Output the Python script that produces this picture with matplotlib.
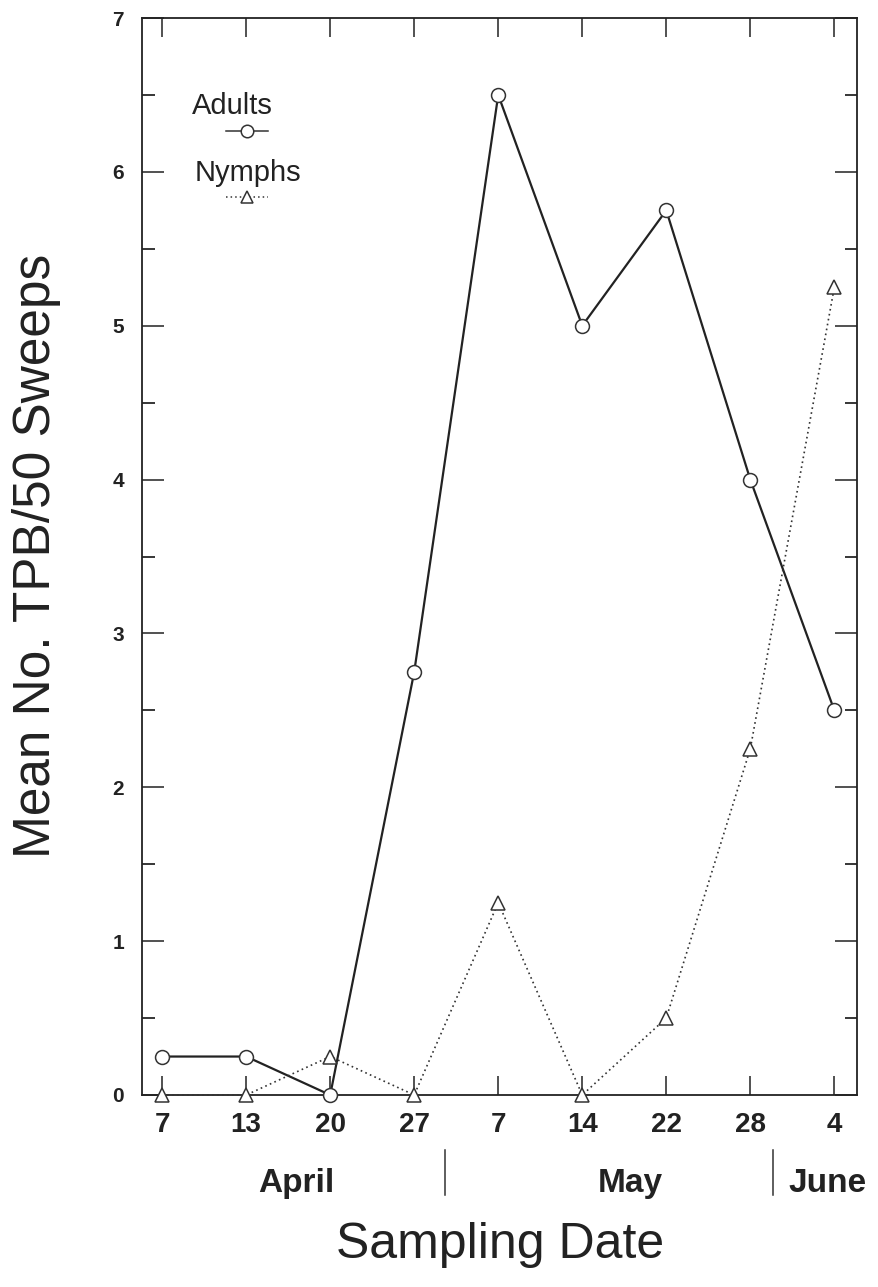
import matplotlib
matplotlib.use("Agg")
import matplotlib.pyplot as plt
from matplotlib.lines import Line2D
from matplotlib.ticker import MultipleLocator
import numpy as np

plt.rcParams['font.family'] = ['Liberation Sans', 'DejaVu Sans']

dates = ["7", "13", "20", "27", "7", "14", "22", "28", "4"]
adults = [0.25, 0.25, 0.0, 2.75, 6.5, 5.0, 5.75, 4.0, 2.5]
nymphs = [0.0, 0.0, 0.25, 0.0, 1.25, 0.0, 0.5, 2.25, 5.25]
months = ["April", "May", "June"]
month_pos = [1.6, 5.57, 7.92]
month_dividers = [3.37, 7.27]

fig = plt.figure(figsize=(8.79, 12.87), dpi=100)
ax = fig.add_axes([142/879, 1 - 1095/1287, (857-142)/879, (1095-18)/1287])

x = np.arange(len(dates))
ax.plot(x, adults, color='#222222', lw=1.6, marker='o', ms=10, mfc='white',
        mec='#333333', mew=1.1, zorder=3, clip_on=False)
ax.plot(x, nymphs, color='#333333', lw=1.2, ls=(0, (1, 2)), marker='^', ms=10,
        mfc='white', mec='#333333', mew=1.1, zorder=3, clip_on=False)

ax.set_xlim(-0.24, 8.27)
ax.set_ylim(0, 7)
ax.set_xticks(x)
ax.set_xticklabels(dates)
ax.yaxis.set_major_locator(MultipleLocator(1))
ax.yaxis.set_minor_locator(MultipleLocator(0.5))
ax.tick_params(axis='x', direction='in', length=14, width=1.1, top=True,
               labelsize=20, pad=12, colors='#222222')
ax.tick_params(axis='y', which='major', direction='in', length=16, width=1.1,
               right=True, labelsize=15, pad=13, colors='#222222')
ax.tick_params(axis='y', which='minor', direction='in', length=9, width=1.1,
               right=True)
for lbl in ax.get_yticklabels() + ax.get_xticklabels():
    lbl.set_fontweight('bold')
for sp in ax.spines.values():
    sp.set_linewidth(1.3)
    sp.set_color('#222222')

# month labels and dividers
trans = ax.get_xaxis_transform()
for m, p in zip(months, month_pos):
    ax.text(p, -0.082, m, transform=trans, ha='center', va='center',
            fontsize=24, fontweight='bold', color='#222222', clip_on=False)
for d in month_dividers:
    ax.add_line(Line2D([d, d], [-0.051, -0.093], transform=trans, color='#333333',
                       lw=1.1, clip_on=False))

fig.text(500/879, 1 - 1245/1287, "Sampling Date", ha='center', va='center',
         fontsize=36, color='#222222')
fig.text(37/879, 1 - 556/1287, "Mean No. TPB/50 Sweeps", rotation=90,
         ha='center', va='center', fontsize=37, color='#222222')

# legend drawn in axes coordinates
def ax_xy(px, py):
    return ((px - 142) / (857 - 142), (1095 - py) / (1095 - 18))

tx, ty = ax_xy(232, 106)
ax.text(tx, ty, "Adults", transform=ax.transAxes, ha='center', va='center',
        fontsize=21, color='#222222')
x0, yy = ax_xy(226, 131)
x1, _ = ax_xy(268, 131)
xm, _ = ax_xy(247, 131)
ax.add_line(Line2D([x0, x1], [yy, yy], transform=ax.transAxes, color='#333333', lw=1.1))
ax.add_line(Line2D([xm], [yy], transform=ax.transAxes, marker='o', ms=9, mfc='white',
                   mec='#333333', mew=1.1, ls='none'))
tx, ty = ax_xy(248, 173)
ax.text(tx, ty, "Nymphs", transform=ax.transAxes, ha='center', va='center',
        fontsize=21, color='#222222')
x0, yy = ax_xy(226, 197)
x1, _ = ax_xy(268, 197)
xm, _ = ax_xy(247, 195)
ax.add_line(Line2D([x0, x1], [yy, yy], transform=ax.transAxes, color='#333333', lw=1.1,
                   ls=(0, (1, 2))))
ax.add_line(Line2D([xm], [yy], transform=ax.transAxes, marker='^', ms=9, mfc='white',
                   mec='#333333', mew=1.1, ls='none'))

fig.savefig("out.png", dpi=100)
